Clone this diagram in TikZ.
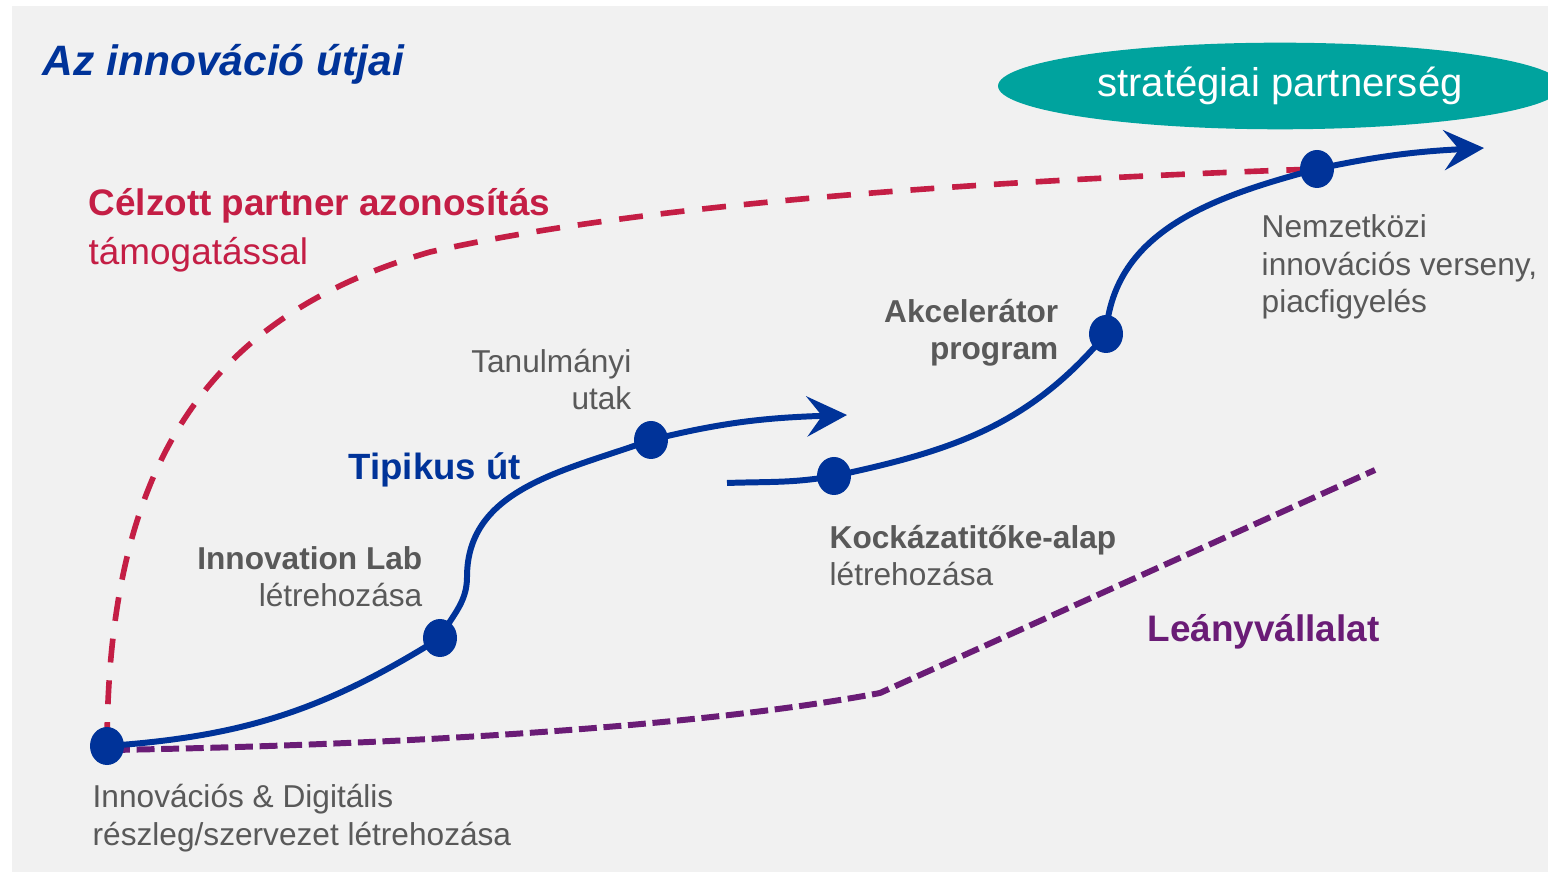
\documentclass[tikz,border=0pt]{standalone}
\usepackage{fontspec}
\setmainfont{Liberation Sans}
\usepackage{tikz}
\usetikzlibrary{shapes.geometric,arrows.meta}
\definecolor{pathblue}{RGB}{0,51,153}
\definecolor{partnerred}{RGB}{196,30,69}
\definecolor{subpurple}{RGB}{106,28,118}
\definecolor{labelgray}{RGB}{89,89,89}
\definecolor{partnerteal}{RGB}{0,163,158}
\definecolor{bggray}{RGB}{241,241,241}

\begin{document}
\begin{tikzpicture}[
  font=\fontsize{9}{10.8}\selectfont,
  dot/.style={ellipse, fill=pathblue, inner sep=0pt, minimum width=3.4mm, minimum height=3.8mm},
  route/.style={draw=pathblue, line width=1.7pt, -{Stealth[length=4mm, width=4mm, inset=1.5mm]}},
  lbl/.style={text=labelgray, inner sep=0pt},
  head/.style={inner sep=0pt, anchor=base west, font=\fontsize{10.5}{14.2}\selectfont\bfseries},
]
\useasboundingbox (0,0) rectangle (15.48,8.72);
\clip (0,0) rectangle (15.48,8.72);
\fill[bggray] (0.12,0) rectangle (15.48,8.66);

% points on the routes
\coordinate (d0) at (1.07,1.26);
\coordinate (d1) at (4.40,2.34);
\coordinate (m1) at (4.67,2.95);
\coordinate (d2) at (6.51,4.32);
\coordinate (t1) at (8.47,4.57);
\coordinate (s2) at (7.27,3.89);
\coordinate (d3) at (8.34,3.96);
\coordinate (d4) at (11.06,5.38);
\coordinate (d5) at (13.17,7.03);
\coordinate (t2) at (14.84,7.24);
\coordinate (p0) at (1.12,1.22);
\coordinate (pk) at (8.80,1.79);
\coordinate (p1) at (13.75,4.02);

\node[anchor=base west, inner sep=0pt, text=pathblue, font=\fontsize{12.1}{14}\selectfont\bfseries\itshape] (title) at (0.42,7.96) {Az innováció útjai};
\node[ellipse, fill=partnerteal, minimum width=5.64cm, minimum height=0.84cm, text=white, font=\fontsize{11.4}{13}\selectfont] (strat) at (12.80,7.86) {stratégiai partnerség};

% dashed routes
\draw[partnerred, line width=1.6pt, dash pattern=on 6.8pt off 5.1pt]
  (d0) .. controls (1.08,4.05) and (2.05,5.55) .. (4.30,6.20)
       .. controls (6.50,6.70) and (10.0,6.92) .. (d5);
\draw[subpurple, line width=1.7pt, dash pattern=on 5.1pt off 1.9pt]
  (p0) .. controls (4.0,1.27) and (7.0,1.45) .. (pk) -- (p1);

% typical route
\draw[route] (d0) to[out=4, in=212] (d1) to[out=62, in=270] (m1)
  to[out=90, in=200] (d2) to[out=14, in=182] (t1);
\draw[route] (s2) to[out=2, in=190] (d3) to[out=12, in=230] (d4)
  to[out=86, in=195] (d5) to[out=12, in=183] (t2);

\node[dot] (dot0) at (d0) {};
\node[dot] (dot1) at (d1) {};
\node[dot] (dot2) at (d2) {};
\node[dot] (dot3) at (d3) {};
\node[dot] (dot4) at (d4) {};
\node[dot] (dot5) at (d5) {};

\node[head, text=partnerred, align=left] (celzott) at (0.88,6.07) {Célzott partner azonosítás\\\mdseries támogatással};
\node[lbl, anchor=base east, align=right] (tanul) at (6.32,4.62) {Tanulmányi\\utak};
\node[head, text=pathblue, font=\fontsize{10.4}{12}\selectfont\bfseries] (tipikus) at (3.48,3.92) {Tipikus út};
\node[lbl, anchor=base east, align=right] (lab) at (4.23,2.65) {\textbf{Innovation Lab}\\létrehozása};
\node[lbl, anchor=base east, align=right, font=\fontsize{9}{10.8}\selectfont\bfseries] (akcel) at (10.59,5.12) {Akcelerátor\\program};
\node[lbl, anchor=base west, align=left] (kock) at (8.29,2.86) {\textbf{Kockázatitőke-alap}\\létrehozása};
\node[lbl, anchor=base west, align=left] (nemz) at (12.61,5.59) {Nemzetközi\\innovációs verseny,\\piacfigyelés};
\node[head, text=subpurple] (leany) at (11.47,2.30) {Leányvállalat};
\node[lbl, anchor=base west, align=left] (digit) at (0.92,0.27) {Innovációs \& Digitális\\részleg/szervezet létrehozása};
\end{tikzpicture}
\end{document}
